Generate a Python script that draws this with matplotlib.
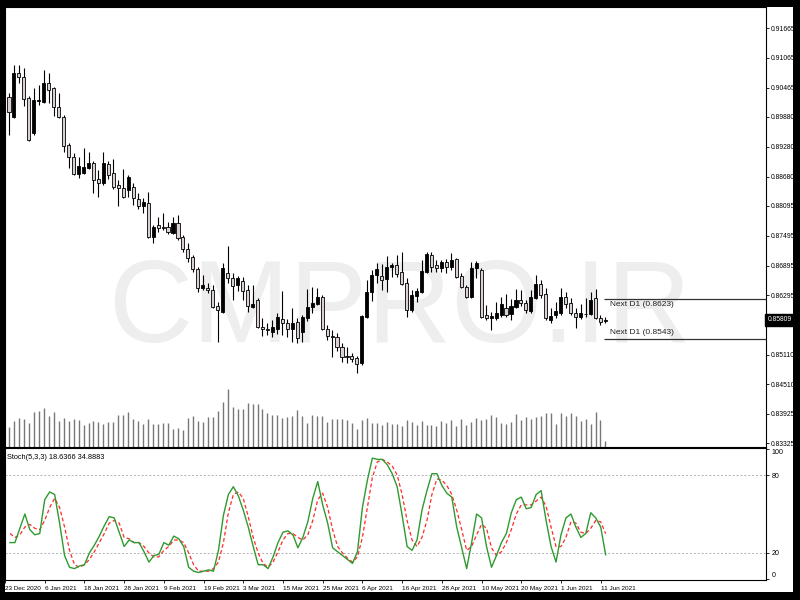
import matplotlib
matplotlib.use('Agg')
import matplotlib.pyplot as plt
from matplotlib.patches import Rectangle
import numpy as np

plt.rcParams['font.family'] = ['Liberation Sans', 'DejaVu Sans']

# daily candles, 23 Dec 2020 .. 11 Jun 2021
OPEN = [
    0.9028, 0.8988, 0.9076, 0.9068, 0.9026, 0.8956, 0.9020, 0.9018, 0.9056, 0.9046,
    0.9008, 0.8988, 0.8932, 0.8907, 0.8873, 0.8875, 0.8885, 0.8895, 0.8863, 0.8855,
    0.8893, 0.8875, 0.8851, 0.8845, 0.8841, 0.8847, 0.8823, 0.8809, 0.8815, 0.8747,
    0.8771, 0.8767, 0.8767, 0.8755, 0.8775, 0.8747, 0.8723, 0.8706, 0.8682, 0.8644,
    0.8644, 0.8640, 0.8608, 0.8596, 0.8674, 0.8664, 0.8650, 0.8658, 0.8640, 0.8606,
    0.8620, 0.8566, 0.8562, 0.8556, 0.8562, 0.8582, 0.8574, 0.8562, 0.8576, 0.8556,
    0.8584, 0.8606, 0.8612, 0.8626, 0.8562, 0.8548, 0.8546, 0.8526, 0.8507, 0.8507,
    0.8503, 0.8493, 0.8586, 0.8636, 0.8670, 0.8668, 0.8662, 0.8686, 0.8690, 0.8676,
    0.8654, 0.8600, 0.8628, 0.8636, 0.8676, 0.8710, 0.8690, 0.8684, 0.8696, 0.8686,
    0.8702, 0.8668, 0.8646, 0.8626, 0.8684, 0.8680, 0.8590, 0.8584, 0.8584, 0.8590,
    0.8604, 0.8592, 0.8606, 0.8620, 0.8614, 0.8598, 0.8624, 0.8652, 0.8632, 0.8580,
    0.8590, 0.8594, 0.8626, 0.8614, 0.8594, 0.8586, 0.8592, 0.8592, 0.8624, 0.8584,
    0.8578,
]
HIGH = [
    0.9036, 0.9092, 0.9092, 0.9086, 0.9030, 0.9046, 0.9052, 0.9082, 0.9076, 0.9048,
    0.9036, 0.8992, 0.8936, 0.8915, 0.8907, 0.8926, 0.8917, 0.8899, 0.8881, 0.8917,
    0.8899, 0.8903, 0.8861, 0.8883, 0.8871, 0.8855, 0.8835, 0.8825, 0.8837, 0.8771,
    0.8787, 0.8795, 0.8777, 0.8787, 0.8791, 0.8751, 0.8735, 0.8710, 0.8686, 0.8670,
    0.8654, 0.8650, 0.8616, 0.8694, 0.8729, 0.8674, 0.8668, 0.8666, 0.8650, 0.8650,
    0.8624, 0.8584, 0.8574, 0.8580, 0.8594, 0.8638, 0.8582, 0.8604, 0.8584, 0.8590,
    0.8642, 0.8646, 0.8644, 0.8630, 0.8570, 0.8560, 0.8554, 0.8534, 0.8526, 0.8515,
    0.8509, 0.8590, 0.8660, 0.8680, 0.8694, 0.8692, 0.8708, 0.8694, 0.8710, 0.8716,
    0.8664, 0.8640, 0.8644, 0.8700, 0.8716, 0.8716, 0.8700, 0.8700, 0.8702, 0.8714,
    0.8704, 0.8674, 0.8650, 0.8696, 0.8698, 0.8684, 0.8610, 0.8596, 0.8616, 0.8626,
    0.8632, 0.8622, 0.8642, 0.8640, 0.8620, 0.8640, 0.8670, 0.8660, 0.8644, 0.8604,
    0.8616, 0.8644, 0.8636, 0.8624, 0.8604, 0.8612, 0.8624, 0.8636, 0.8642, 0.8590,
    0.8586,
]
LOW = [
    0.8952, 0.8986, 0.9056, 0.9010, 0.8940, 0.8952, 0.9012, 0.9016, 0.9016, 0.8990,
    0.8986, 0.8917, 0.8885, 0.8871, 0.8865, 0.8873, 0.8883, 0.8835, 0.8827, 0.8851,
    0.8863, 0.8843, 0.8809, 0.8825, 0.8827, 0.8811, 0.8803, 0.8795, 0.8745, 0.8735,
    0.8757, 0.8761, 0.8753, 0.8753, 0.8741, 0.8716, 0.8696, 0.8676, 0.8636, 0.8640,
    0.8634, 0.8604, 0.8536, 0.8594, 0.8654, 0.8620, 0.8638, 0.8620, 0.8596, 0.8604,
    0.8564, 0.8548, 0.8550, 0.8546, 0.8552, 0.8550, 0.8546, 0.8536, 0.8534, 0.8536,
    0.8578, 0.8594, 0.8610, 0.8560, 0.8540, 0.8505, 0.8519, 0.8495, 0.8493, 0.8495,
    0.8473, 0.8489, 0.8584, 0.8618, 0.8654, 0.8640, 0.8636, 0.8666, 0.8666, 0.8650,
    0.8586, 0.8596, 0.8616, 0.8634, 0.8674, 0.8676, 0.8676, 0.8676, 0.8674, 0.8680,
    0.8664, 0.8644, 0.8624, 0.8624, 0.8664, 0.8584, 0.8580, 0.8560, 0.8580, 0.8586,
    0.8586, 0.8580, 0.8604, 0.8608, 0.8594, 0.8594, 0.8622, 0.8624, 0.8580, 0.8574,
    0.8584, 0.8590, 0.8604, 0.8590, 0.8564, 0.8582, 0.8586, 0.8590, 0.8582, 0.8570,
    0.8574,
]
CLOSE = [
    0.8998, 0.9076, 0.9068, 0.9024, 0.8942, 0.9022, 0.9022, 0.9056, 0.9042, 0.9008,
    0.8988, 0.8930, 0.8907, 0.8873, 0.8889, 0.8887, 0.8895, 0.8861, 0.8855, 0.8895,
    0.8871, 0.8847, 0.8845, 0.8827, 0.8867, 0.8825, 0.8809, 0.8817, 0.8747, 0.8767,
    0.8765, 0.8765, 0.8757, 0.8775, 0.8745, 0.8723, 0.8704, 0.8682, 0.8644, 0.8650,
    0.8640, 0.8606, 0.8600, 0.8684, 0.8664, 0.8648, 0.8664, 0.8638, 0.8608, 0.8612,
    0.8566, 0.8562, 0.8560, 0.8566, 0.8586, 0.8574, 0.8562, 0.8574, 0.8544, 0.8586,
    0.8606, 0.8614, 0.8626, 0.8562, 0.8548, 0.8546, 0.8526, 0.8505, 0.8505, 0.8501,
    0.8491, 0.8588, 0.8636, 0.8670, 0.8682, 0.8660, 0.8686, 0.8690, 0.8672, 0.8652,
    0.8600, 0.8630, 0.8638, 0.8678, 0.8712, 0.8686, 0.8684, 0.8696, 0.8686, 0.8700,
    0.8666, 0.8646, 0.8626, 0.8684, 0.8694, 0.8586, 0.8584, 0.8588, 0.8594, 0.8612,
    0.8590, 0.8608, 0.8620, 0.8614, 0.8600, 0.8626, 0.8652, 0.8630, 0.8584, 0.8588,
    0.8598, 0.8626, 0.8612, 0.8594, 0.8586, 0.8594, 0.8592, 0.8620, 0.8584, 0.8576,
    0.85809,
]
VOLUME = [
    19, 25, 28, 27, 23, 34, 35, 38, 30, 34,
    25, 28, 25, 27, 26, 21, 23, 25, 24, 22,
    24, 24, 31, 31, 34, 27, 25, 22, 27, 22,
    22, 23, 23, 17, 18, 16, 28, 30, 25, 24,
    29, 29, 35, 44, 57, 39, 37, 37, 43, 42,
    42, 37, 33, 31, 31, 28, 29, 30, 36, 30,
    23, 31, 30, 30, 24, 27, 27, 27, 26, 23,
    17, 26, 28, 23, 23, 21, 24, 22, 22, 20,
    26, 24, 21, 25, 21, 21, 20, 25, 23, 26,
    20, 27, 21, 24, 28, 26, 27, 31, 29, 23,
    22, 24, 32, 26, 29, 27, 29, 30, 33, 33,
    22, 33, 30, 33, 30, 25, 27, 22, 34, 26,
    5,
]
STOCH_K = [
    28, 28, 39, 50, 38, 34, 35, 61, 67, 65,
    43, 18, 9, 8, 10, 11, 20, 26, 33, 41,
    48, 47, 36, 25, 30, 28, 28, 21, 13, 18,
    19, 28, 26, 33, 31, 25, 9, 6, 5, 6,
    7, 6, 22, 49, 65, 71, 64, 53, 40, 25,
    11, 11, 8, 17, 28, 36, 37, 34, 24, 32,
    44, 62, 75, 57, 43, 24, 21, 18, 15, 12,
    21, 55, 76, 93, 92, 92, 88, 81, 71, 49,
    25, 22, 30, 53, 68, 81, 81, 72, 66, 63,
    40, 24, 8, 28, 50, 47, 25, 9, 18, 28,
    35, 51, 61, 63, 54, 55, 65, 68, 45, 25,
    13, 34, 47, 50, 40, 32, 35, 51, 47, 40,
    18.6366,
]
STOCH_D = [
    35, 32, 34, 40, 42, 39, 38, 45, 55, 62,
    55, 40, 22, 11, 9, 11, 15, 21, 28, 35,
    43, 45, 43, 32, 31, 28, 28, 25, 20, 17,
    17, 22, 25, 30, 30, 28, 20, 11, 6, 6,
    6, 8, 13, 28, 51, 65, 67, 62, 48, 32,
    20, 12, 9, 13, 21, 30, 35, 35, 32, 30,
    34, 45, 61, 66, 55, 38, 25, 20, 16, 13,
    17, 32, 55, 78, 90, 92, 90, 87, 80, 65,
    45, 30, 25, 32, 45, 65, 77, 76, 72, 65,
    53, 38, 22, 25, 34, 42, 39, 24, 18, 21,
    28, 38, 50, 57, 57, 57, 60, 63, 56, 40,
    25, 25, 32, 44, 43, 36, 35, 39, 45, 44,
    34.8883,
]
DATE_LABELS = [
    '23 Dec 2020', '6 Jan 2021', '18 Jan 2021', '28 Jan 2021', '9 Feb 2021',
    '19 Feb 2021', '3 Mar 2021', '15 Mar 2021', '25 Mar 2021', '6 Apr 2021',
    '16 Apr 2021', '28 Apr 2021', '10 May 2021', '20 May 2021', '1 Jun 2021',
    '11 Jun 2021',
]
PRICE_TICKS = [
    0.91665, 0.91065, 0.90465, 0.89880, 0.89280, 0.88680, 0.88095, 0.87495,
    0.86895, 0.86295, 0.85710, 0.85110, 0.84510, 0.83925, 0.83325,
]
NEXT_D1 = [0.8623, 0.8543]
STOCH_LEVELS = [20, 80]

BULL = 'black'
BEAR = '#dcd1d1'
SMALL = 4.9

x = np.arange(len(OPEN))
opens = np.array(OPEN)
closes = np.array(CLOSE)
xlim = (-0.8, 152.3)

fig = plt.figure(figsize=(8, 6), dpi=100, facecolor='black')
fig.patches.append(Rectangle((5 / 800, 8 / 600), 788 / 800, 585 / 600,
                             transform=fig.transFigure, facecolor='white',
                             edgecolor='none', zorder=-5))

main_rect = [5 / 800, 1 - 446.5 / 600, 761 / 800, 439.5 / 600]
vol_ax = fig.add_axes(main_rect, zorder=0)
ax = fig.add_axes(main_rect, zorder=1)
sx = fig.add_axes([5 / 800, 1 - 580 / 600, 761 / 800, 132 / 600], zorder=1)

# volume underlay
vol_ax.vlines(x, 0, VOLUME, color='#777777', linewidth=1.0)
vol_ax.set_xlim(xlim)
vol_ax.set_ylim(0, 439)
vol_ax.axis('off')
vol_ax.set_facecolor('white')

# price panel
ax.set_facecolor('none')
ax.text(0.519, 0.238, 'CMPRO.IR', transform=ax.transAxes, ha='center',
        va='baseline', fontsize=84, color='#eeeeee', zorder=0)
ax.vlines(x, LOW, HIGH, color='black', linewidth=0.8, zorder=2)
up = closes >= opens
bottoms = np.minimum(opens, closes)
heights = np.maximum(np.abs(closes - opens), 0.00005)
ax.bar(x, heights, bottom=bottoms, width=0.62,
       color=np.where(up, BULL, BEAR), edgecolor='black', linewidth=0.6,
       zorder=3)

last = len(OPEN) - 1
for level, off, va in zip(NEXT_D1, (-1.5, 1.5), ('top', 'bottom')):
    ax.hlines(level, last - 0.3, xlim[1], color='#333333', linewidth=0.9,
              zorder=2)
    ax.annotate('Next D1 ({:.4f})'.format(level), xy=(last + 0.9, level),
                xytext=(0, off), textcoords='offset points', va=va,
                ha='left', fontsize=6.0, color='#222222')

ax.set_xlim(xlim)
ax.set_ylim(0.83263, 0.92087)
ax.set_xticks([])
ax.yaxis.tick_right()
ax.set_yticks(PRICE_TICKS)
ax.set_yticklabels(['{:.5f}'.format(p) for p in PRICE_TICKS])
ax.tick_params(axis='y', direction='out', length=2, width=0.6,
               labelsize=SMALL, pad=1.2)
for spine in ax.spines.values():
    spine.set_color('black')
    spine.set_linewidth(0.8)
ax.text(1.002, CLOSE[-1], '{:.5f}'.format(CLOSE[-1]),
        transform=ax.get_yaxis_transform(), ha='left', va='center',
        fontsize=SMALL, color='white', zorder=10, clip_on=False,
        bbox=dict(facecolor='black', edgecolor='black', pad=1.8))

# stochastic panel
for level in STOCH_LEVELS:
    sx.axhline(level, color='#b0b0b0', linewidth=0.7,
               linestyle=(0, (2, 2)), zorder=1)
sx.plot(x, STOCH_K, color='#2f9a2f', linewidth=1.0, zorder=3)
sx.plot(x, STOCH_D, color='#ff2a2a', linewidth=0.9,
        linestyle=(0, (3, 2)), zorder=2)
sx.text(0.003, 0.93, 'Stoch(5,3,3) {:.4f} {:.4f}'.format(STOCH_K[-1], STOCH_D[-1]),
        transform=sx.transAxes, ha='left', va='center', fontsize=5.3)
sx.set_xlim(xlim)
sx.set_ylim(-0.77, 100.77)
sx.yaxis.tick_right()
sx.set_yticks([100, 80, 20, 0])
sx.set_yticklabels(['100', '80', '20', '0'])
labels = sx.get_yticklabels()
labels[0].set_va('top')
labels[-1].set_va('bottom')
sx.set_xticks(np.arange(len(DATE_LABELS)) * 8 - 1)
sx.set_xticklabels(DATE_LABELS, ha='left')
sx.tick_params(axis='y', direction='out', length=2, width=0.6,
               labelsize=5.1, pad=2)
sx.tick_params(axis='x', direction='out', length=2, width=0.6,
               labelsize=4.6, pad=2)
for spine in sx.spines.values():
    spine.set_color('black')
    spine.set_linewidth(0.8)

fig.savefig('out.png', dpi=100, facecolor='black')
